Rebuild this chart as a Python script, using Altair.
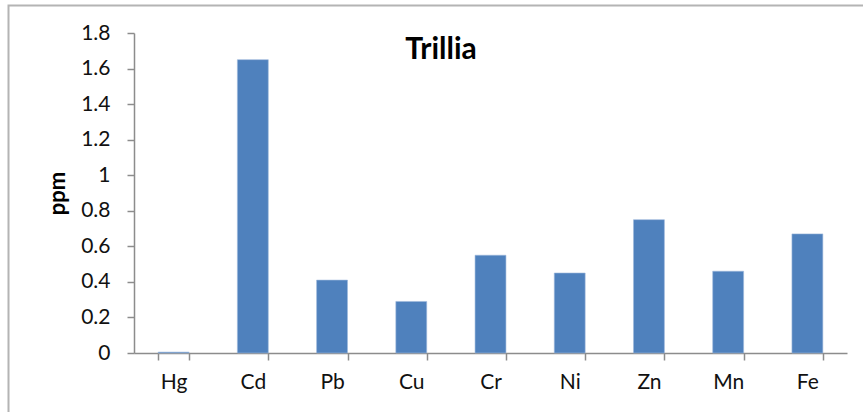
import altair as alt
import pandas as pd

metals = ["Hg", "Cd", "Pb", "Cu", "Cr", "Ni", "Zn", "Mn", "Fe"]
ppm = [0.005, 1.65, 0.41, 0.29, 0.55, 0.45, 0.75, 0.46, 0.67]
title_text = "Trillia"
y_title = "ppm"

df = pd.DataFrame({"metal": metals, "ppm": ppm})

W, H = 713, 320
LEFT, TOP = 134, 33
FONT = "Lato"

bars = alt.Chart(df).mark_bar(color="#4F81BD", stroke="#9db8dc", strokeWidth=0.6).encode(
    x=alt.X("metal:N", sort=metals,
            scale=alt.Scale(paddingInner=0.61, paddingOuter=0.305),
            axis=alt.Axis(title=None, labelAngle=0, labelFont=FONT, labelFontSize=21,
                          labelColor="#111111", labelPadding=11, tickBand="extent",
                          tickSize=7, tickColor="#8c8c8c", domainColor="#8c8c8c",
                          domainWidth=1.5, tickWidth=1.5)),
    y=alt.Y("ppm:Q", scale=alt.Scale(domain=[0, 1.8], nice=False),
            axis=alt.Axis(title=y_title, values=[0, 0.2, 0.4, 0.6, 0.8, 1.0, 1.2, 1.4, 1.6, 1.8],
                          labelExpr="datum.value == 0 ? '0' : format(datum.value, '.1~f')",
                          labelFont=FONT, labelFontSize=21, labelColor="#111111",
                          labelPadding=17, tickSize=7, tickColor="#8c8c8c",
                          domainColor="#8c8c8c", domainWidth=1.5, tickWidth=1.5,
                          grid=False, titleFont=FONT, titleFontSize=22,
                          titleFontWeight="bold", titleColor="#000000",
                          titleAngle=-90, titleAlign="center", titleBaseline="middle",
                          titleX=57.5 - LEFT, titleY=H / 2)),
)

title = alt.Chart(pd.DataFrame({"t": [title_text]})).mark_text(
    font=FONT, fontSize=30, fontWeight="bold", color="#000000",
    align="center", baseline="alphabetic"
).encode(text="t:N", x=alt.value(441 - LEFT), y=alt.value(59 - TOP))

border = alt.Chart(pd.DataFrame({"b": [0]})).mark_rect(
    fill=None, stroke="#b4b4b4", strokeWidth=2
).encode(x=alt.value(8.5 - LEFT), x2=alt.value(870 - LEFT),
         y=alt.value(5.5 - TOP), y2=alt.value(420 - TOP))

chart = alt.layer(border, bars, title).properties(
    width=W, height=H,
    autosize=alt.AutoSizeParams(type="none"),
    padding={"left": LEFT, "top": TOP, "right": 863 - LEFT - W, "bottom": 412 - TOP - H},
    background="white",
).configure_view(stroke=None)

chart.save("out.html", embed_options={"renderer": "svg", "actions": False})
